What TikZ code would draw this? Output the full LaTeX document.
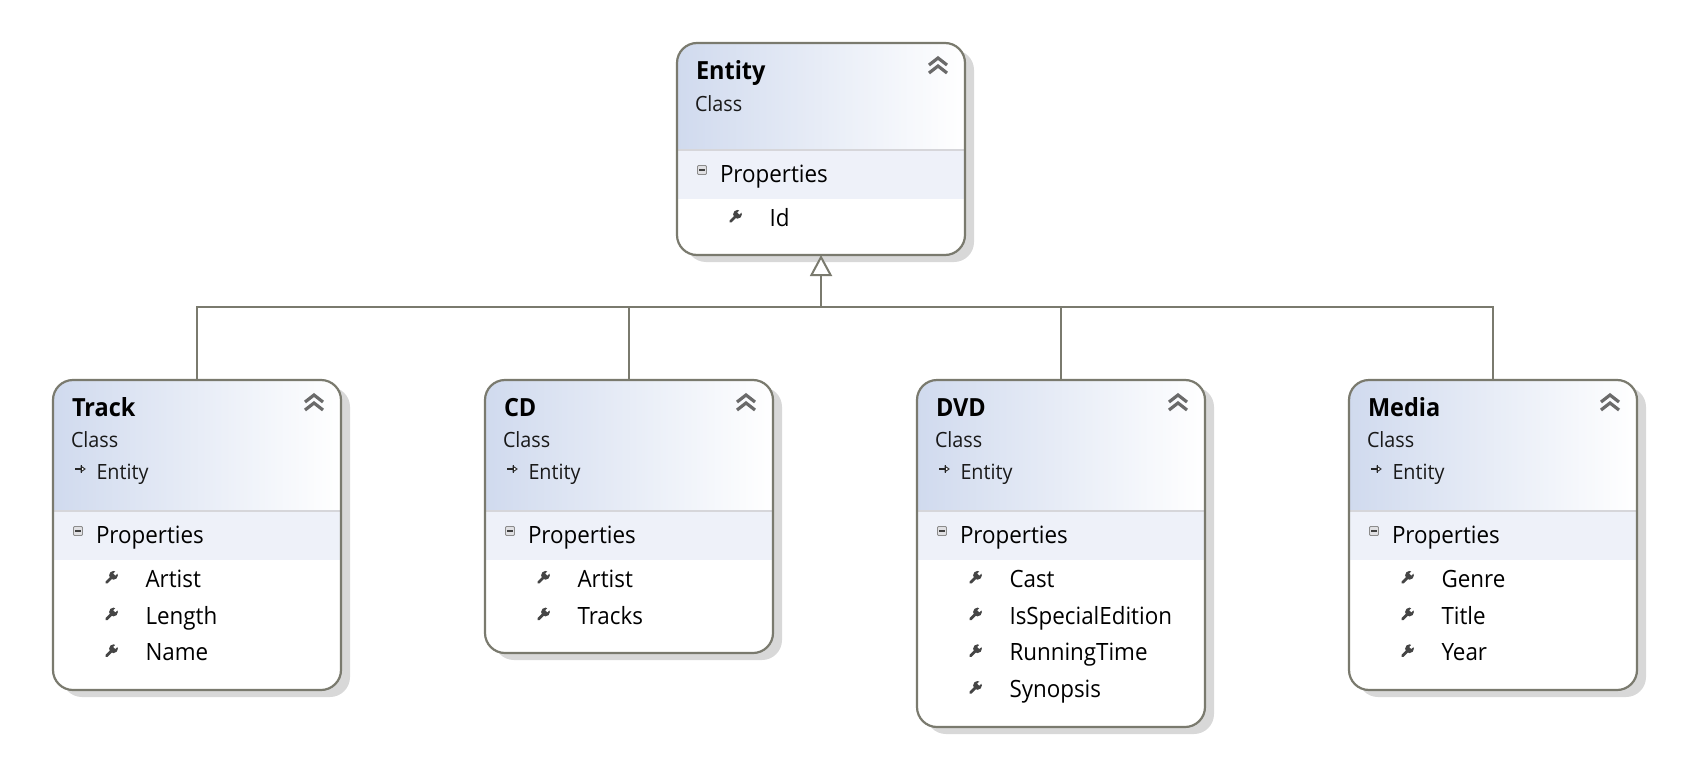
\documentclass[tikz,border=0pt]{standalone}
\usepackage{fontspec}
\setmainfont[FakeStretch=0.94]{Open Sans}
\usetikzlibrary{arrows.meta}
\definecolor{edgecol}{HTML}{7A7A6E}
\definecolor{shadowcol}{HTML}{D8D8D8}
\definecolor{hdrleft}{HTML}{D0DAEE}
\definecolor{hdrmid}{HTML}{EDF0F9}
\definecolor{bandcol}{HTML}{EEF1F9}
\definecolor{sepcol}{HTML}{D6D6DA}
\definecolor{iconcol}{HTML}{454545}
\definecolor{chevcol}{HTML}{6A6A6A}
\tikzset{
  classframe/.style={draw=edgecol,line width=2.2pt,rounded corners=20pt,fill=none,inner sep=0pt,outer sep=0pt,anchor=north west,minimum width=288pt},
  titletext/.style={anchor=base west,inner sep=0pt,outer sep=0pt,font=\fontsize{25}{29}\selectfont\bfseries,text=black},
  subtext/.style={anchor=base west,inner sep=0pt,outer sep=0pt,font=\fontsize{21}{26}\selectfont,text=black!90},
  itemtext/.style={anchor=base west,inner sep=0pt,outer sep=0pt,font=\fontsize{23.8}{28}\selectfont,text=black},
  conn/.style={draw=edgecol,line width=2pt},
}
\newcommand{\wrenchicon}[2]{%
  \begin{scope}[shift={(#1,#2)}]
    \draw[iconcol,line width=2.8pt,line cap=round] (-5,5) -- (1,-1);
    \fill[iconcol] (2,-2.2) circle (4.4);
    \draw[white,line width=2.8pt] (2.8,-3) -- (7.5,-7.5);
  \end{scope}}
\newcommand{\chevicon}[2]{%
  \begin{scope}[shift={(#1,#2)}]
    \draw[chevcol,line width=3.2pt] (-9,-1) -- (0,-8) -- (9,-1);
    \draw[chevcol,line width=3.2pt] (-9,7) -- (0,0) -- (9,7);
  \end{scope}}
\newcommand{\minusicon}[2]{%
  \begin{scope}[shift={(#1,#2)}]
    \draw[draw=black!45,fill=blue!8!black!12,line width=.9pt,rounded corners=1pt] (-4.5,-4.5) rectangle (4.5,4.5);
    \draw[black!75,line width=1.3pt] (-2.8,0) -- (2.8,0);
  \end{scope}}
\newcommand{\inheritsicon}[2]{%
  \begin{scope}[shift={(#1,#2)}]
    \draw[black!85,line width=1.1pt] (-5,0) -- (1,0);
    \draw[black!85,line width=.9pt,fill=white] (1,-2.8) -- (5,0) -- (1,2.8) -- cycle;
    \draw[black!85,line width=.9pt] (1,-4) -- (1,4);
  \end{scope}}
% id, left, top, height, title, header height, has-parent (0/1), items
\newcommand{\classbox}[8]{%
  \pgfmathsetmacro{\bandtop}{#3+#6}
  \pgfmathsetmacro{\bandbot}{\bandtop+49}
  \pgfmathsetmacro{\texttop}{#3+(1-#7)}
  \fill[shadowcol,rounded corners=20pt] (#2+9,#3+7) rectangle (#2+297,#3+#4+7);
  \fill[white,rounded corners=20pt] (#2,#3) rectangle (#2+288,#3+#4);
  \begin{scope}
    \clip[rounded corners=20pt] (#2,#3) rectangle (#2+288,#3+#4);
    \shade[left color=hdrleft,middle color=hdrmid,right color=white] (#2,#3) rectangle (#2+288,\bandtop);
    \fill[bandcol] (#2,\bandtop) rectangle (#2+288,\bandbot);
    \draw[sepcol,line width=1.2pt] (#2,\bandtop) -- (#2+288,\bandtop);
  \end{scope}
  \node[classframe,minimum height=#4*1pt] (#1) at (#2,#3) {};
  \node[titletext] (#1-title) at (#2+19,\texttop+36) {#5};
  \node[subtext] (#1-kind) at (#2+18,\texttop+67.3) {Class};
  \ifnum#7=1
    \inheritsicon{#2+27}{#3+89}
    \node[subtext] (#1-parent) at (#2+43.5,#3+99) {Entity};
  \fi
  \chevicon{#2+261}{#3+23}
  \minusicon{#2+25}{\bandtop+20}
  \node[itemtext] (#1-group) at (#2+43,\bandtop+32.5) {Properties};
  \foreach \t [count=\i] in {#8} {
    \pgfmathsetmacro{\by}{\bandbot+27.5+36.7*(\i-1)}
    \wrenchicon{#2+58.5}{\by-10}
    \node[itemtext] (#1-item\i) at (#2+92.5,\by) {\t};
  }
}
\begin{document}
\begin{tikzpicture}[x=1pt,y=-1pt]
  \useasboundingbox (0,0) rectangle (1704,773);
  \fill[white] (0,0) rectangle (1704,773);
  \classbox{entity}{677}{43}{212}{Entity}{107}{0}{Id}
  \classbox{track}{53}{380}{310}{Track}{131}{1}{Artist,Length,Name}
  \classbox{cd}{485}{380}{273}{CD}{131}{1}{Artist,Tracks}
  \classbox{dvd}{917}{380}{347}{DVD}{131}{1}{Cast,IsSpecialEdition,RunningTime,Synopsis}
  \classbox{media}{1349}{380}{310}{Media}{131}{1}{Genre,Title,Year}
  \coordinate (bus) at (821,307);
  \coordinate (trackin) at (197,380);
  \coordinate (cdin) at (629,380);
  \coordinate (dvdin) at (1061,380);
  \coordinate (mediain) at (1493,380);
  \draw[conn] (trackin) |- (bus);
  \draw[conn] (cdin) |- (bus);
  \draw[conn] (dvdin) |- (bus);
  \draw[conn] (mediain) |- (bus);
  \draw[conn,-{Triangle[open,length=21pt,width=22pt,fill=white]}] (bus) -- (entity.south -| bus);
\end{tikzpicture}
\end{document}
